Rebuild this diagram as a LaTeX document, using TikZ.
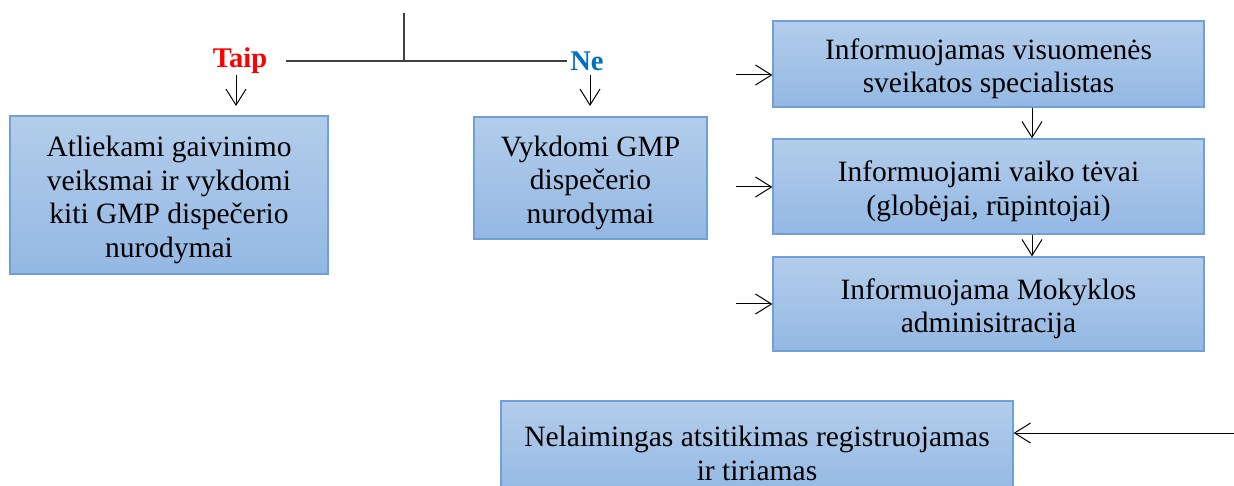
\documentclass[tikz,border=0pt]{standalone}
\usepackage{fontspec}
\setmainfont{Liberation Serif}
\usetikzlibrary{arrows.meta}

\definecolor{boxtop}{HTML}{B3CDEB}
\definecolor{boxbot}{HTML}{93B8E3}
\definecolor{boxline}{HTML}{6FA0D8}
\definecolor{neblue}{HTML}{0070C0}

% extra room above the first line of a box
\newcommand{\firstln}{\rule{0pt}{30pt}}

\tikzset{
  ->/.style={draw=black,line width=1pt,-{Straight Barb[length=16pt,width=20pt,line width=1pt]}},
  box/.style={draw=boxline,line width=1.2pt,top color=boxtop,bottom color=boxbot,
    align=center,inner sep=0pt}
}
\tikzstyle{every node}=[font=\fontsize{29.5}{33.5}\selectfont]

\begin{document}
\begin{tikzpicture}[x=1pt,y=-1pt]
    \path[use as bounding box,clip] (0,0) rectangle (1234,486);
    \node[box,minimum width=318pt,minimum height=158pt] (A) at (169,195)
    {\firstln Atliekami gaivinimo\\veiksmai ir vykdomi\\kiti GMP dispečerio\\nurodymai};
    \node[box,minimum width=233pt,minimum height=122pt] (B) at (590.5,178)
    {\firstln Vykdomi GMP\\dispečerio\\nurodymai};
    \node[box,minimum width=431pt,minimum height=86pt] (C) at (988.5,64)
    {\firstln Informuojamas visuomenės\\sveikatos specialistas};
    \node[box,minimum width=431pt,minimum height=95pt] (D) at (988.5,186.5)
    {\firstln Informuojami vaiko tėvai\\(globėjai, rūpintojai)};
    \node[box,minimum width=431pt,minimum height=94pt] (E) at (988.5,304)
    {\firstln Informuojama Mokyklos\\adminisitracija};
    \node[box,minimum width=512pt,minimum height=95pt] (F) at (757,448.5)
    {\firstln Nelaimingas atsitikimas registruojamas\\ir tiriamas};
    \node[font=\fontsize{28.5}{31}\selectfont\bfseries,text=red] (T) at (240,61) {Taip};
    \node[font=\fontsize{28.5}{31}\selectfont\bfseries,text=neblue] (N) at (587,61) {Ne};
    \coordinate (top) at (404,13);
    \coordinate (fork) at (404,61);
    \coordinate (lineL) at (286,61);
    \coordinate (taipS) at (236,75);
    \coordinate (taipE) at (236,106);
    \coordinate (neS) at (590,75);
    \coordinate (neE) at (590,106);
    \coordinate (inC) at (736,75);
    \coordinate (inD) at (736,187);
    \coordinate (inE) at (736,304);
    \coordinate (inF) at (1234,433);
    \draw[line width=1.5pt,draw=black!75] (top) -- (fork);
    \draw[line width=1.5pt,draw=black!75] (lineL) -- (N.west);
    \draw[->] (taipS) -- (taipE);
    \draw[->] (neS) -- (neE);
    \draw[->] (inC) -- (inC -| C.west);
    \draw[->] (inD) -- (inD -| D.west);
    \draw[->] (inE) -- (inE -| E.west);
    \draw[->] ([xshift=43.5pt]C.south) -- ([xshift=43.5pt]D.north);
    \draw[->] ([xshift=43.5pt]D.south) -- ([xshift=43.5pt]E.north);
    \draw[->] (inF) -- (inF -| F.east);
\end{tikzpicture}
\end{document}
